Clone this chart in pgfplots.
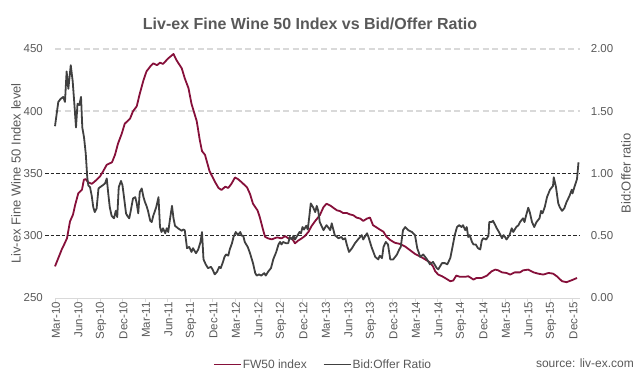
\documentclass[border=0pt]{standalone}
\usepackage{fontspec}
\setmainfont{Liberation Sans}
\usepackage{pgfplots}
\pgfplotsset{compat=1.18}
\definecolor{fwred}{RGB}{134,16,58}
\definecolor{bogrey}{RGB}{64,64,64}
\definecolor{txt}{RGB}{89,89,89}
\definecolor{gridc}{RGB}{217,217,217}
\newcommand{\fs}[1]{\fontsize{#1bp}{#1bp}\selectfont}
\begin{document}
\begin{tikzpicture}
\pgfplotsset{
  common/.style={
    at={(0,0)}, anchor=south west,
    scale only axis, width=525bp, height=249bp,
    xmin=0, xmax=70,
    /pgf/number format/assume math mode=true,
    tick label style={font=\fs{11.5}, text=txt},
    label style={font=\fs{13}, text=txt},
    clip=false,
  },
}
\begin{axis}[common,
  ymin=250, ymax=450,
  axis line style={draw=none},
  ytick={250,300,350,400,450},
  ytick style={draw=none},
  yticklabel style={inner sep=0pt, anchor=east, xshift=-8bp},
  xtick={0,3,...,69},
  xticklabels={Mar-10,Jun-10,Sep-10,Dec-10,Mar-11,Jun-11,Sep-11,Dec-11,Mar-12,Jun-12,Sep-12,Dec-12,Mar-13,Jun-13,Sep-13,Dec-13,Mar-14,Jun-14,Sep-14,Dec-14,Mar-15,Jun-15,Sep-15,Dec-15},
  xtick pos=bottom,
  tick align=outside,
  major tick length=4bp,
  xtick style={draw=gridc, line width=0.8bp},
  xticklabel style={rotate=90, anchor=east, inner sep=0pt, yshift=-1bp},
  ylabel={Liv-ex Fine Wine 50 Index level},
  ylabel style={at={(axis description cs:-0.0743,0.5)}, anchor=center},
]
\draw[gridc, line width=1.6bp, dash pattern=on 6bp off 3.5bp] (axis cs:0,450) -- (axis cs:70,450);
\draw[gridc, line width=1.6bp, dash pattern=on 6bp off 3.5bp] (axis cs:0,400) -- (axis cs:70,400);
\draw[gridc, line width=0.8bp] (axis cs:0,250) -- (axis cs:70,250);
\draw[black!85, line width=0.8bp, dash pattern=on 3.5bp off 2bp] (axis cs:-1.33,350) -- (axis cs:70,350);
\draw[black!85, line width=0.8bp, dash pattern=on 3.5bp off 2bp] (axis cs:-1.33,300) -- (axis cs:70,300);
\addplot[fwred, line width=1.8bp, line join=round] coordinates {
(0,275.4) (0.44,282) (0.9,289) (1.3,294) (1.6,298) (2.0,311.5) (2.4,317) (2.7,325) (3.1,334) (3.6,337)
(3.85,345) (4.1,345.5) (4.4,343) (4.9,341.7) (5.3,343.6) (6.0,347.6) (6.4,351.6) (6.9,357) (7.6,359) (8.0,365)
(8.4,374) (8.9,382) (9.3,390) (10.0,394) (10.4,400) (10.9,404) (11.3,414) (11.8,425) (12.2,432) (12.7,436)
(13.1,438.5) (13.6,437) (14.0,439) (14.4,438) (15.1,442.5) (15.8,446) (16.2,441) (16.9,434.5) (17.3,426.5) (17.8,418.5)
(18.2,406) (18.9,392) (19.3,377) (19.6,368) (20.0,365) (20.6,352) (21.3,343.6) (21.8,338.4) (22.2,336.8) (22.7,339.4)
(23.1,338.4) (23.5,341.5) (24.0,346.8) (24.4,345.5) (24.9,342.9) (25.6,338.9) (26.0,333.6) (26.4,325.7) (27.0,320.4) (27.3,315)
(27.7,305.8) (28.0,299.2) (28.4,297.9) (28.9,297.1) (29.6,298.7) (30.2,297.9) (30.7,299.7) (31.1,297.9) (31.6,297.9) (32.0,293.9)
(32.4,296) (32.9,297.9) (33.3,299.7) (33.8,303.2) (34.2,307.7) (34.7,311.9) (35.3,316.4) (35.8,323) (36.2,325.7) (36.7,324.3)
(37.1,322.5) (37.6,320.4) (38.0,319.8) (38.4,318.3) (38.9,318.3) (39.3,317.2) (39.8,316.4) (40.2,314.6) (40.7,313.8) (41.1,311.9)
(41.6,313.8) (42.0,314.6) (42.4,308.5) (42.9,306.6) (43.3,305) (43.8,303.2) (44.2,299.2) (44.7,296.6) (45.3,294.4) (46.0,293.4)
(46.7,291.3) (47.3,288.6) (48.0,285.4) (48.7,283.3) (49.3,281.2) (50.0,278.6) (50.4,275.4) (50.7,271.4) (51.1,268.8) (51.6,267.5)
(52.0,266.1) (52.7,263.5) (53.1,264) (53.5,268) (54.0,267) (54.7,267) (55.1,267.5) (55.8,264.8) (56.2,266.1) (56.9,266.1)
(57.6,268) (58.2,271.4) (58.7,272.8) (59.1,272.2) (59.6,270.6) (60.2,270.1) (60.7,268.8) (61.3,270.6) (62.0,270.6) (62.4,272.2)
(63.1,272.8) (63.8,270.6) (64.4,269.6) (65.1,268.8) (65.8,270.1) (66.4,269.6) (66.9,267.5) (67.6,263.5) (68.2,262.7) (68.9,264.3)
(69.6,266.1)
};
\end{axis}
\begin{axis}[common,
  ymin=0, ymax=2,
  hide x axis,
  axis y line*=right,
  axis line style={draw=none},
  ytick={0,0.5,1,1.5,2},
  ytick style={draw=none},
  yticklabel style={inner sep=0pt, anchor=west, xshift=10.7bp,
    /pgf/number format/.cd, fixed, fixed zerofill, precision=2},
  ylabel={Bid:Offer ratio},
  ylabel style={at={(axis description cs:1.0876,0.5)}, anchor=center, rotate=0},
  legend columns=2,
  legend style={at={(axis description cs:0.3004,-0.267)}, anchor=west, draw=none, fill=none,
    font=\fs{12}, text=txt, inner xsep=0pt, inner ysep=0pt,
    nodes={inner sep=1bp},
    /tikz/every even column/.append style={column sep=15bp}},
  legend image post style={xscale=1.59},
]
\addlegendimage{fwred, line width=1.8bp}
\addlegendentry{FW50 index}
\addplot[bogrey, line width=1.8bp, line join=round] coordinates {
(0,1.38) (0.44,1.575) (0.76,1.60) (1.1,1.615) (1.33,1.575) (1.55,1.82) (1.78,1.68) (2.1,1.87) (2.36,1.74) (2.58,1.56)
(2.8,1.37) (3.0,1.56) (3.24,1.55) (3.47,1.615) (3.64,1.37) (3.87,1.29) (4.1,1.16) (4.3,0.97) (4.44,0.905) (4.67,0.89)
(4.9,0.82) (5.1,0.73) (5.3,0.69) (5.55,0.72) (5.8,0.88) (6.0,0.89) (6.36,0.905) (6.67,0.92) (6.9,0.96) (7.1,0.84)
(7.3,0.73) (7.55,0.66) (7.87,0.64) (8.1,0.70) (8.3,0.65) (8.5,0.89) (8.8,0.94) (9.0,0.905) (9.2,0.81) (9.47,0.68)
(9.64,0.66) (9.9,0.64) (10.1,0.70) (10.4,0.80) (10.7,0.81) (10.9,0.76) (11.1,0.68) (11.3,0.85) (11.56,0.88) (11.8,0.81)
(12.0,0.77) (12.2,0.74) (12.4,0.70) (12.7,0.62) (12.9,0.61) (13.1,0.66) (13.5,0.73) (13.8,0.81) (14.0,0.57) (14.2,0.53)
(14.4,0.56) (14.7,0.52) (14.9,0.56) (15.1,0.53) (15.3,0.62) (15.6,0.74) (15.8,0.64) (16.0,0.58) (16.4,0.56) (16.9,0.54)
(17.1,0.55) (17.3,0.545) (17.6,0.40) (17.9,0.41) (18.2,0.37) (18.4,0.40) (18.8,0.36) (19.1,0.39) (19.4,0.45) (19.6,0.53)
(19.8,0.31) (20.1,0.27) (20.4,0.24) (20.8,0.25) (21.0,0.23) (21.3,0.19) (21.6,0.21) (21.9,0.25) (22.1,0.24) (22.4,0.29)
(22.6,0.33) (22.8,0.35) (23.1,0.34) (23.3,0.39) (23.6,0.44) (23.8,0.49) (24.1,0.53) (24.4,0.505) (24.7,0.53) (24.9,0.50)
(25.1,0.50) (25.3,0.45) (25.7,0.41) (26.0,0.36) (26.2,0.32) (26.4,0.28) (26.7,0.20) (26.9,0.18) (27.2,0.19) (27.5,0.18)
(27.9,0.20) (28.1,0.18) (28.4,0.21) (28.8,0.24) (29.1,0.31) (29.5,0.37) (29.8,0.43) (30.0,0.45) (30.2,0.43) (30.4,0.45)
(30.8,0.44) (31.1,0.44) (31.3,0.49) (31.6,0.47) (31.8,0.50) (32.0,0.47) (32.3,0.50) (32.6,0.53) (32.8,0.52) (33.0,0.57)
(33.2,0.55) (33.5,0.58) (33.7,0.55) (33.9,0.65) (34.1,0.76) (34.4,0.73) (34.7,0.69) (34.9,0.74) (35.1,0.70) (35.3,0.61)
(35.8,0.545) (36.2,0.585) (36.7,0.545) (36.9,0.60) (37.3,0.505) (37.8,0.48) (38.2,0.49) (38.4,0.47) (38.7,0.48) (38.9,0.43)
(39.2,0.37) (39.6,0.40) (40.0,0.44) (40.4,0.47) (40.9,0.505) (41.1,0.47) (41.6,0.52) (41.8,0.49) (42.2,0.41) (42.7,0.33)
(43.1,0.31) (43.3,0.34) (43.6,0.32) (43.8,0.41) (44.1,0.45) (44.4,0.43) (44.7,0.31) (45.1,0.31) (45.6,0.35) (45.9,0.39)
(46.1,0.41) (46.4,0.545) (46.7,0.57) (47.1,0.545) (47.6,0.53) (48.0,0.505) (48.3,0.40) (48.7,0.33) (49.1,0.35) (49.6,0.31)
(50.0,0.27) (50.4,0.29) (50.9,0.24) (51.1,0.23) (51.6,0.28) (52.0,0.28) (52.3,0.27) (52.7,0.32) (53.0,0.41) (53.3,0.505)
(53.6,0.57) (53.9,0.585) (54.2,0.57) (54.4,0.585) (54.7,0.545) (54.9,0.57) (55.1,0.49) (55.3,0.505) (55.6,0.45) (55.8,0.43)
(56.1,0.43) (56.4,0.40) (56.7,0.39) (56.9,0.46) (57.1,0.48) (57.5,0.47) (57.8,0.50) (57.9,0.61) (58.2,0.61) (58.4,0.62)
(58.7,0.585) (58.9,0.56) (59.2,0.53) (59.6,0.48) (59.8,0.505) (60.0,0.49) (60.2,0.47) (60.6,0.505) (60.9,0.56) (61.1,0.53)
(61.5,0.57) (61.8,0.585) (62.0,0.61) (62.4,0.64) (62.6,0.61) (62.8,0.66) (63.1,0.725) (63.3,0.69) (63.6,0.61) (63.9,0.57)
(64.2,0.61) (64.6,0.64) (64.8,0.70) (65.0,0.68) (65.3,0.73) (65.6,0.81) (66.0,0.87) (66.4,0.90) (66.5,0.97) (66.8,0.89)
(67.1,0.76) (67.3,0.73) (67.6,0.70) (67.9,0.72) (68.2,0.77) (68.6,0.82) (68.9,0.87) (69.0,0.84) (69.3,0.90) (69.6,0.955)
(69.8,1.09)
};
\addlegendentry{Bid:Offer Ratio}
\end{axis}
\node[anchor=base, font=\fs{16}\bfseries, text=txt] at (255bp,268bp) {Liv-ex Fine Wine 50 Index vs Bid/Offer Ratio};
\node[anchor=base east, font=\fs{12}, text=txt, inner sep=0pt] at (579bp,-69.3bp) {source: liv-ex.com};
\pgfresetboundingbox
\path[use as bounding box] (-55bp,-77bp) rectangle (584bp,298bp);
\end{tikzpicture}
\end{document}
